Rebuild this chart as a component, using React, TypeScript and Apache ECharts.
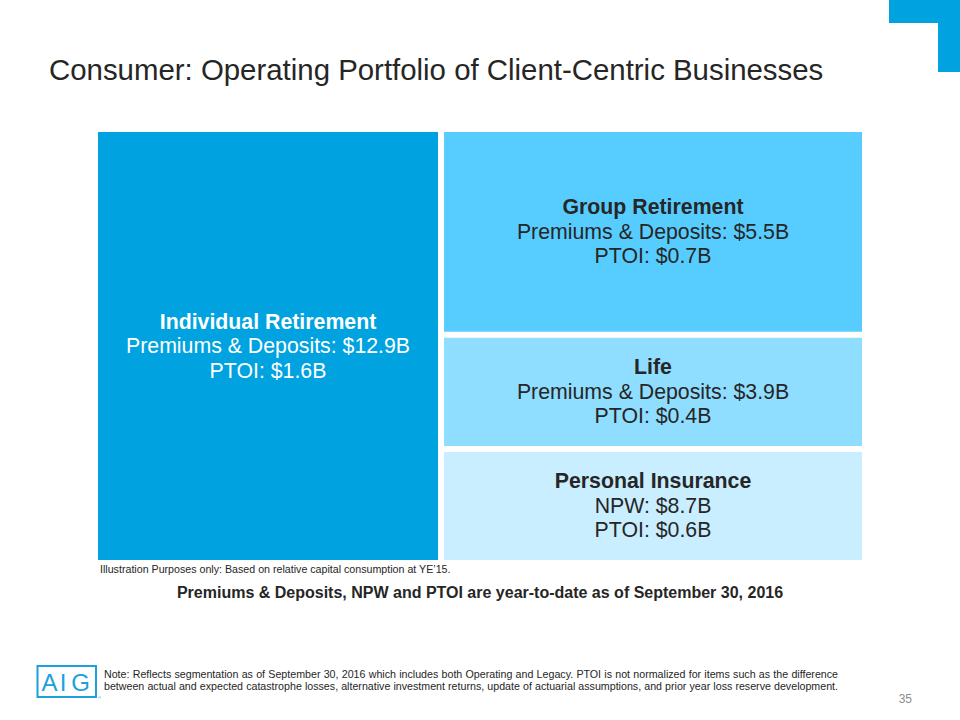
import React, { useEffect, useRef } from 'react';
import * as echarts from 'echarts';

const segments = ['Individual Retirement', 'Group Retirement', 'Life', 'Personal Insurance'];
// relative capital consumption at YE'15 (share of total, read from the areas)
const capitalShare = [44.9, 26.1, 14.7, 14.3];
const metricLines = [
  ['Premiums & Deposits: $12.9B', 'PTOI: $1.6B'],
  ['Premiums & Deposits: $5.5B', 'PTOI: $0.7B'],
  ['Premiums & Deposits: $3.9B', 'PTOI: $0.4B'],
  ['NPW: $8.7B', 'PTOI: $0.6B'],
];
const segmentColors = ['#00A3E0', '#57CDFF', '#8FDDFF', '#C9EEFF'];
const labelColors = ['#FFFFFF', '#262626', '#262626', '#262626'];

const titleText = 'Consumer: Operating Portfolio of Client-Centric Businesses';
const illustrationText = "Illustration Purposes only: Based on relative capital consumption at YE\u201915.";
const subtitleText = 'Premiums & Deposits, NPW and PTOI are year-to-date as of September 30, 2016';
const noteLines = [
  'Note: Reflects segmentation as of September 30, 2016 which includes both Operating and Legacy. PTOI is not normalized for items such as the difference',
  'between actual and expected catastrophe losses, alternative investment returns, update of actuarial assumptions, and prior year loss reserve development.',
];
const pageNumber = '35';

const FONT = '"Liberation Sans", Arial, Helvetica, sans-serif';

let measureCtx: CanvasRenderingContext2D | null = null;
function measure(text: string, font: string): number {
  if (!measureCtx) measureCtx = document.createElement('canvas').getContext('2d');
  if (!measureCtx) return text.length * 5;
  measureCtx.font = font;
  return measureCtx.measureText(text).width;
}

function justifiedLine(line: string, x0: number, width: number, y: number, fontSize: number, fill: string) {
  const words = line.split(' ');
  const font = `${fontSize}px ${FONT}`;
  const widths = words.map((w) => measure(w, font));
  const spaceW = measure(' ', font);
  const total = widths.reduce((a, b) => a + b, 0);
  const gap = words.length > 1 ? Math.max(spaceW * 0.8, (width - total) / (words.length - 1)) : 0;
  let x = x0;
  return words.map((w, k) => {
    const el = {
      type: 'text',
      x,
      y,
      style: { text: w, fontSize, fontFamily: FONT, fill, align: 'left', verticalAlign: 'middle' },
    };
    x += widths[k] + gap;
    return el;
  });
}

export default function App() {
  const ref = useRef<HTMLDivElement>(null);

  useEffect(() => {
    if (!ref.current) return;
    const chart = echarts.init(ref.current, undefined, { renderer: 'svg' });
    const total = capitalShare.reduce((a, b) => a + b, 0);
    const restTotal = total - capitalShare[0];
    const halfGap = 3;

    const renderItem = (params: any, api: any) => {
      const i = params.dataIndex;
      const share = api.value(1);
      let x0: number, x1: number, y0: number, y1: number;
      if (i === 0) {
        x0 = 0; x1 = (share / total) * 100; y0 = 0; y1 = 100;
      } else {
        let cum = 0;
        for (let k = 1; k < i; k++) cum += capitalShare[k];
        x0 = (capitalShare[0] / total) * 100; x1 = 100;
        y0 = (cum / restTotal) * 100; y1 = ((cum + share) / restTotal) * 100;
      }
      const p0 = api.coord([x0, y0]);
      const p1 = api.coord([x1, y1]);
      const left = p0[0] + (x0 > 0.001 ? halfGap : 0);
      const right = p1[0] - (x1 < 99.999 ? halfGap : 0);
      const top = p0[1] + (y0 > 0.001 ? halfGap : 0);
      const bottom = p1[1] - (y1 < 99.999 ? halfGap : 0);
      const fill = labelColors[i];
      return {
        type: 'group',
        children: [
          {
            type: 'rect',
            shape: { x: left, y: top, width: right - left, height: bottom - top },
            style: { fill: segmentColors[i] },
          },
          {
            type: 'text',
            x: (left + right) / 2,
            y: (top + bottom) / 2,
            style: {
              text: `{t|${segments[i]}}\n{v|${metricLines[i][0]}}\n{v|${metricLines[i][1]}}`,
              align: 'center',
              verticalAlign: 'middle',
              fill,
              fontFamily: FONT,
              rich: {
                t: { fontSize: 21.3, fontWeight: 'bold', lineHeight: 24.5, fill, fontFamily: FONT, align: 'center' },
                v: { fontSize: 21.3, lineHeight: 24.5, fill, fontFamily: FONT, align: 'center' },
              },
            },
          },
        ],
      };
    };

    const noteEls = [
      ...justifiedLine(noteLines[0], 104, 734, 674, 10.67, '#262626'),
      ...justifiedLine(noteLines[1], 104, 734, 686, 10.67, '#262626'),
    ];

    chart.setOption({
      animation: false,
      backgroundColor: '#FFFFFF',
      grid: { left: 98, top: 132, width: 764, height: 428 },
      xAxis: { type: 'value', min: 0, max: 100, show: false },
      yAxis: { type: 'value', min: 0, max: 100, inverse: true, show: false },
      series: [
        {
          type: 'custom',
          coordinateSystem: 'cartesian2d',
          clip: false,
          renderItem,
          data: segments.map((name, i) => ({ name, value: [i, capitalShare[i]] })),
        },
      ],
      graphic: [
        {
          type: 'polygon',
          shape: { points: [[889, 0], [960, 0], [960, 72], [938, 72], [938, 23], [889, 23]] },
          style: { fill: '#00A3E0' },
        },
        {
          type: 'text',
          x: 49,
          y: 69,
          style: { text: titleText, fontSize: 29.4, fontFamily: FONT, fill: '#262626', align: 'left', verticalAlign: 'middle' },
        },
        {
          type: 'text',
          x: 100,
          y: 569,
          style: { text: illustrationText, fontSize: 10.67, fontFamily: FONT, fill: '#262626', align: 'left', verticalAlign: 'middle' },
        },
        {
          type: 'text',
          x: 480,
          y: 592,
          style: { text: subtitleText, fontSize: 16, fontWeight: 'bold', fontFamily: FONT, fill: '#262626', align: 'center', verticalAlign: 'middle' },
        },
        {
          type: 'rect',
          shape: { x: 37.5, y: 666, width: 58.5, height: 31 },
          style: { fill: 'none', stroke: '#1BA1DC', lineWidth: 2 },
        },
        { type: 'text', x: 49.5, y: 682, style: { text: 'A', fontSize: 24, fontFamily: FONT, fill: '#1BA1DC', align: 'center', verticalAlign: 'middle' } },
        { type: 'text', x: 63, y: 682, style: { text: 'I', fontSize: 24, fontFamily: FONT, fill: '#1BA1DC', align: 'center', verticalAlign: 'middle' } },
        { type: 'text', x: 80.5, y: 682, style: { text: 'G', fontSize: 24, fontFamily: FONT, fill: '#1BA1DC', align: 'center', verticalAlign: 'middle' } },
        { type: 'text', x: 98, y: 697, style: { text: '\u00AE', fontSize: 4, fontFamily: FONT, fill: '#1BA1DC', align: 'left', verticalAlign: 'middle' } },
        ...noteEls,
        {
          type: 'text',
          x: 912,
          y: 699,
          style: { text: pageNumber, fontSize: 12, fontFamily: FONT, fill: '#8C8C8C', align: 'right', verticalAlign: 'middle' },
        },
      ],
    });

    return () => chart.dispose();
  }, []);

  return <div ref={ref} style={{ position: 'absolute', left: 0, top: 0, width: 960, height: 720 }} />;
}
